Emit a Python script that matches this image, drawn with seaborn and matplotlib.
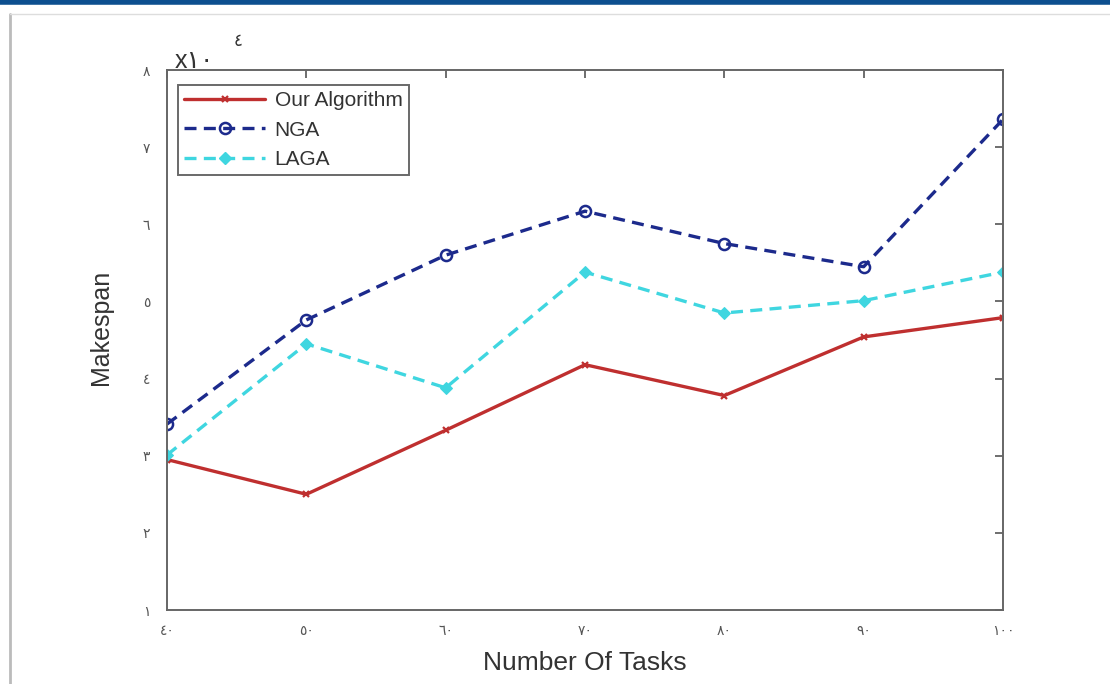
import numpy as np
import pandas as pd
import matplotlib
matplotlib.use("Agg")
import matplotlib.pyplot as plt
import matplotlib.lines as mlines
import seaborn as sns

# values (Makespan in units of 10^4)
tasks = [40, 50, 60, 70, 80, 90, 100]
ours = [2.95, 2.50, 3.33, 4.18, 3.78, 4.54, 4.79]
nga = [3.41, 4.76, 5.60, 6.17, 5.75, 5.45, 7.36]
laga = [3.01, 4.45, 3.88, 5.38, 4.85, 5.01, 5.38]

x_labels = ["٤٠", "٥٠", "٦٠", "٧٠", "٨٠", "٩٠", "١٠٠"]
y_ticks = [1, 2, 3, 4, 5, 6, 7, 8]
y_labels = ["١", "٢", "٣", "٤", "٥", "٦", "٧", "٨"]

sns.set_style("white")
plt.rcParams['font.family'] = ['Liberation Sans', 'DejaVu Sans']

RED = "#bf2f2f"
NAVY = "#1c2a8c"
CYAN = "#3fd6e0"
DASH = (0, (3.6, 2.2))

fig = plt.figure(figsize=(11.1, 6.84), dpi=100)
ax = fig.add_axes([167 / 1110, 1 - 610 / 684, (1003 - 167) / 1110, (610 - 70) / 684])

df = pd.DataFrame({"tasks": tasks, "ours": ours, "nga": nga, "laga": laga})

sns.lineplot(data=df, x="tasks", y="ours", ax=ax, color=RED, lw=2.4,
             marker="x", markersize=5, mew=1.6, mec=RED)
sns.lineplot(data=df, x="tasks", y="nga", ax=ax, color=NAVY, lw=2.4,
             marker="o", markersize=8, mfc="none", mec=NAVY, mew=1.8,
             linestyle=DASH)
sns.lineplot(data=df, x="tasks", y="laga", ax=ax, color=CYAN, lw=2.4,
             marker="D", markersize=6, mec=CYAN, mfc=CYAN,
             linestyle=DASH)

ax.set_xlim(40, 100)
ax.set_ylim(1, 8)
ax.set_xticks(tasks)
ax.set_xticklabels(x_labels)
ax.set_yticks(y_ticks)
ax.set_yticklabels(y_labels)
ax.tick_params(direction="in", length=6, width=1.2, colors="#555555",
               labelsize=10, top=True, right=True)
ax.tick_params(axis="x", pad=10)
ax.tick_params(axis="y", pad=12)
for s in ax.spines.values():
    s.set_color("#666666")
    s.set_linewidth(1.4)

ax.set_xlabel("Number Of Tasks", fontsize=19, color="#333333")
ax.set_ylabel("Makespan", fontsize=18, color="#333333")
ax.xaxis.set_label_coords(0.5, -0.076)
ax.yaxis.set_label_coords(-0.065, 0.524)

# exponent label above the axis
fig.text(175 / 1110, 1 - 68 / 684, "x١٠", fontsize=18, color="#333333")
fig.text(234 / 1110, 1 - 46 / 684, "٤", fontsize=12, color="#333333")

handles = [
    mlines.Line2D([], [], color=RED, lw=2.4, marker="x", markersize=5, mew=1.6,
                  label="Our Algorithm"),
    mlines.Line2D([], [], color=NAVY, lw=2.4, ls=DASH, marker="o", mfc="none",
                  mew=1.8, markersize=8, label="NGA"),
    mlines.Line2D([], [], color=CYAN, lw=2.4, ls=DASH, marker="D",
                  markersize=6, label="LAGA"),
]
leg = ax.legend(handles=handles, loc="upper left", bbox_to_anchor=(0.013, 0.972),
                fontsize=15, frameon=True, fancybox=False, handlelength=3.9,
                handletextpad=0.45, borderpad=0.3, labelspacing=0.5, borderaxespad=0)
leg.get_frame().set_edgecolor("#444444")
leg.get_frame().set_linewidth(1.4)
for t in leg.get_texts():
    t.set_color("#333333")

# page decorations: blue band at top and the gray frame
fig.add_artist(mlines.Line2D([0, 1], [1 - 2 / 684, 1 - 2 / 684], color="#0d4f8f", lw=4,
                             transform=fig.transFigure))
fig.add_artist(mlines.Line2D([10 / 1110, 10 / 1110], [0, 1 - 14 / 684], color="#bbbbbb", lw=2,
                             transform=fig.transFigure))
fig.add_artist(mlines.Line2D([10 / 1110, 1], [1 - 14 / 684, 1 - 14 / 684], color="#dddddd", lw=1,
                             transform=fig.transFigure))

fig.savefig("out.png", dpi=100)
